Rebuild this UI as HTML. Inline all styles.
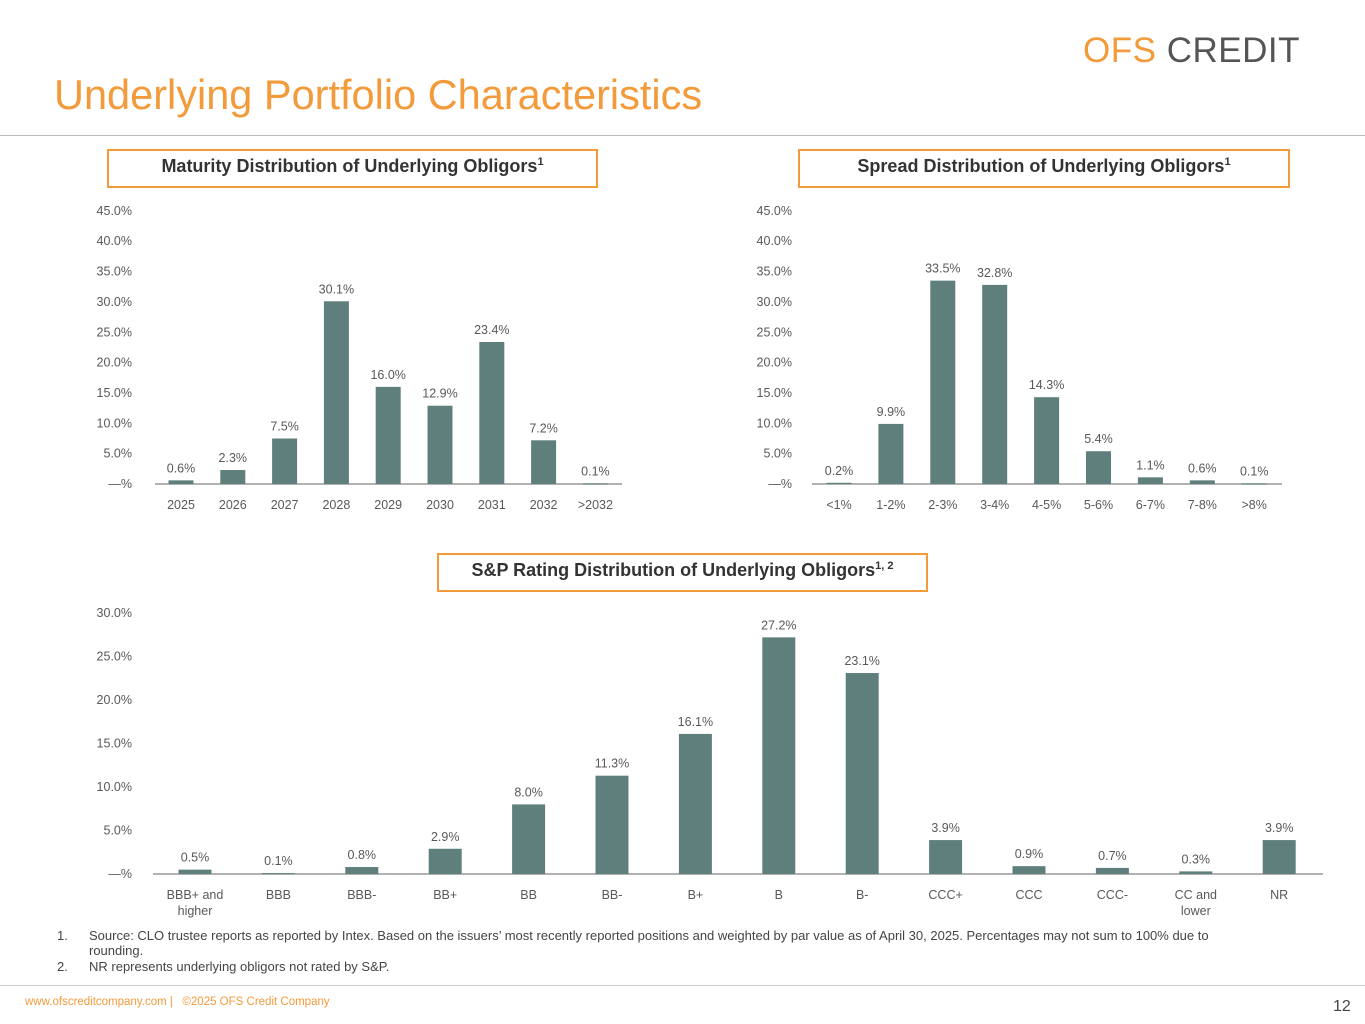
<!DOCTYPE html>
<html><head><meta charset="utf-8"><style>
body{margin:0;width:1365px;height:1024px;background:#fff;position:relative;overflow:hidden;font-family:"Liberation Sans",sans-serif}
.abs{position:absolute}
.box{position:absolute;border:2px solid #F39A3A;box-sizing:border-box;text-align:center;font-weight:bold;font-size:18px;color:#333;line-height:22px}
.fn{position:absolute;font-size:13px;color:#444}
</style></head><body>
<div class="abs" style="left:1083px;top:31px;font-size:35px;letter-spacing:0.5px;white-space:nowrap"><span style="color:#F39A3A">OFS</span> <span style="color:#555">CREDIT</span></div>
<div class="abs" style="left:54px;top:71px;font-size:41.5px;color:#F39A3A;white-space:nowrap">Underlying Portfolio Characteristics</div>
<div class="abs" style="left:0;top:135px;width:1365px;height:1px;background:#bbb"></div>
<div class="box" style="left:107px;top:149px;width:491px;height:39px">Maturity Distribution of Underlying Obligors<sup style="font-size:11px">1</sup></div>
<div class="box" style="left:798px;top:149px;width:492px;height:39px">Spread Distribution of Underlying Obligors<sup style="font-size:11px">1</sup></div>
<div class="box" style="left:437px;top:553px;width:491px;height:39px">S&amp;P Rating Distribution of Underlying Obligors<sup style="font-size:11px">1, 2</sup></div>
<svg class="abs" style="left:0;top:0" width="1365" height="1024" id="svg"></svg>
<div class="fn" style="left:57px;top:928px">1.</div>
<div class="fn" style="left:89px;top:928px;width:1170px;line-height:15px">Source: CLO trustee reports as reported by Intex. Based on the issuers’ most recently reported positions and weighted by par value as of April 30, 2025. Percentages may not sum to 100% due to rounding.</div>
<div class="fn" style="left:57px;top:959px">2.</div>
<div class="fn" style="left:89px;top:959px">NR represents underlying obligors not rated by S&amp;P.</div>
<div class="abs" style="left:0;top:985px;width:1365px;height:1px;background:#ccc"></div>
<div class="abs" style="left:25px;top:996px;font-size:11.5px;color:#F39A3A">www.ofscreditcompany.com |&nbsp;&nbsp; ©2025 OFS Credit Company</div>
<div class="abs" style="left:1333px;top:998px;font-size:16px;color:#444">12</div>
<script>
const matCats=["2025","2026","2027","2028","2029","2030","2031","2032",">2032"];
const matVals=[0.6,2.3,7.5,30.1,16.0,12.9,23.4,7.2,0.1];
const sprCats=["<1%","1-2%","2-3%","3-4%","4-5%","5-6%","6-7%","7-8%",">8%"];
const sprVals=[0.2,9.9,33.5,32.8,14.3,5.4,1.1,0.6,0.1];
const ratCats=["BBB+ and|higher","BBB","BBB-","BB+","BB","BB-","B+","B","B-","CCC+","CCC","CCC-","CC and|lower","NR"];
const ratVals=[0.5,0.1,0.8,2.9,8.0,11.3,16.1,27.2,23.1,3.9,0.9,0.7,0.3,3.9];
const ticks45=[0,5,10,15,20,25,30,35,40,45];
const ticks30=[0,5,10,15,20,25,30];
const svg=document.getElementById('svg');
const NS='http://www.w3.org/2000/svg';
function mk(tag,attrs,txt){const e=document.createElementNS(NS,tag);for(const k in attrs)e.setAttribute(k,attrs[k]);if(txt!==undefined)e.textContent=txt;svg.appendChild(e);return e;}
function chart(name,cats,vals,ticks,o){
  const y=v=>o.base-v*o.ppu;
  const x=i=>o.x0+i*o.step;
  ticks.forEach(t=>{
    const el=mk('text',{x:o.lx,y:y(t)+4,'text-anchor':'end','font-size':12.5,fill:'#595959'},t===0?'—%':t.toFixed(1)+'%');
    
    
  });
  const ax=mk('line',{x1:o.a0,x2:o.a1,y1:o.base,y2:o.base,stroke:'#999','stroke-width':1.5});
  
  
  cats.forEach((c,i)=>{
    const v=vals[i];
    const r=mk('rect',{x:x(i)-o.bw/2,y:y(v),width:o.bw,height:Math.max(v*o.ppu,1),fill:'#5F7F7C'});
    
    
    const l=mk('text',{x:x(i),y:y(v)-8,'text-anchor':'middle','font-size':12.5,fill:'#595959'},v.toFixed(1)+'%');
    
    
    c.split('|').forEach((p,j)=>{
      const t=mk('text',{x:x(i),y:o.base+25+j*16,'text-anchor':'middle','font-size':12.5,fill:'#595959'},p);
      
      
    });
  });
}
chart('maturity',matCats,matVals,ticks45,{base:484,ppu:6.07,x0:181,step:51.8,bw:25,lx:132,a0:155,a1:622});
chart('spread',sprCats,sprVals,ticks45,{base:484,ppu:6.07,x0:839,step:51.9,bw:25,lx:792,a0:812,a1:1282});
chart('rating',ratCats,ratVals,ticks30,{base:874,ppu:8.7,x0:195,step:83.4,bw:33,lx:132,a0:153,a1:1323});
</script>
</body></html>
